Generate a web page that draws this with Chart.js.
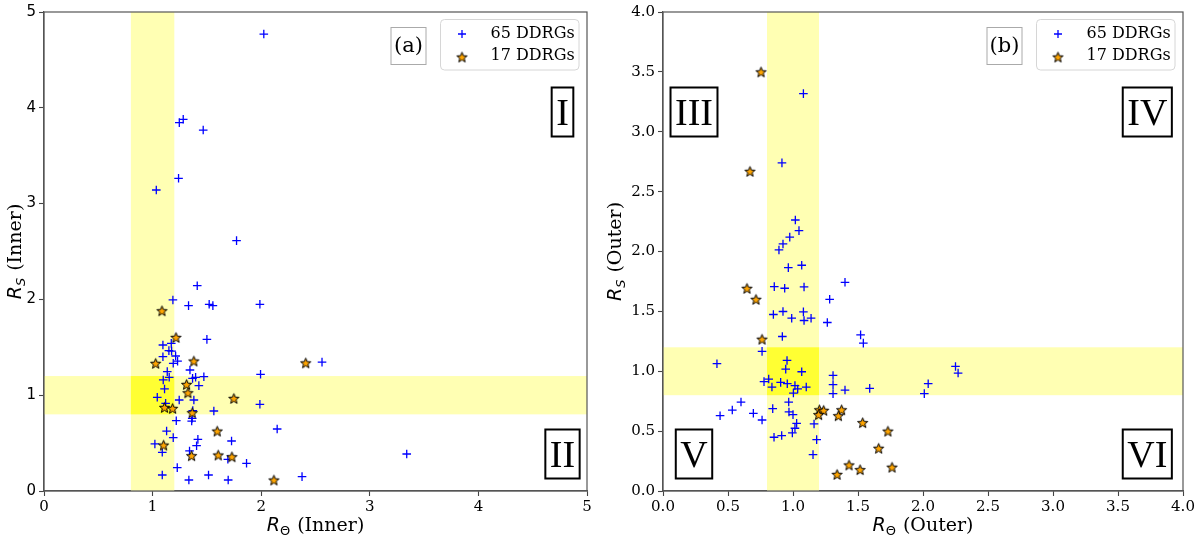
<!DOCTYPE html>
<html>
<head>
<meta charset="utf-8">
<script src="https://cdn.jsdelivr.net/npm/chart.js@4.4.0/dist/chart.umd.min.js"></script>
<style>
  html, body { margin: 0; padding: 0; background: #fff; }
  #wrap { position: relative; width: 1200px; height: 541px; }
  .panel { position: absolute; top: 0; width: 600px; height: 541px; }
</style>
</head>
<body>
<div id="wrap">
  <div class="panel" style="left:0"><canvas id="cInner" width="600" height="541"></canvas></div>
  <div class="panel" style="left:600px"><canvas id="cOuter" width="600" height="541"></canvas></div>
</div>
<script>
// ---------- DATA ----------
const legendLabels = ['65 DDRGs', '17 DDRGs'];
const bandRange = [0.8, 1.2];

const innerTicks = [0, 1, 2, 3, 4, 5];
const outerTicks = [0, 0.5, 1.0, 1.5, 2.0, 2.5, 3.0, 3.5, 4.0];

// Panel (a): inner
const innerCrossX = [1.411,1.187,1.331,1.521,1.555,1.988,1.500,1.095,1.172,1.150,1.175,1.095,1.212,1.190,1.230,1.344,1.135,1.098,1.153,1.368,1.396,1.472,1.994,1.426,1.110,1.043,1.245,1.380,1.120,1.988,1.564,1.365,1.218,2.147,1.129,1.417,1.190,1.727,1.021,1.405,1.340,1.089,1.865,1.693,1.227,1.089,1.334,1.515,1.696,2.024,1.246,1.282,1.466,1.239,1.034,1.773,2.560,3.340,2.376,1.370,1.360];
const innerCrossY = [2.143,1.994,1.935,1.949,1.935,1.949,1.583,1.524,1.541,1.465,1.461,1.402,1.409,1.333,1.355,1.263,1.246,1.159,1.187,1.176,1.187,1.193,1.218,1.100,1.065,0.978,0.950,0.950,0.915,0.905,0.835,0.759,0.734,0.647,0.626,0.539,0.557,0.522,0.491,0.473,0.418,0.404,0.289,0.331,0.244,0.167,0.115,0.167,0.115,4.770,3.845,3.880,3.768,3.264,3.142,2.613,1.345,0.386,0.150,0.840,0.730];
const innerStarX = [1.086,1.215,1.380,1.028,1.313,1.325,1.748,1.110,1.184,1.365,1.595,1.101,1.359,1.604,1.730,2.117,2.410];
const innerStarY = [1.882,1.604,1.357,1.333,1.113,1.026,0.967,0.873,0.863,0.818,0.626,0.480,0.369,0.376,0.358,0.115,1.338];

// Panel (b): outer
const outerCrossX = [0.923,0.892,0.964,1.067,0.856,0.936,1.085,1.400,1.282,0.849,0.923,0.990,1.080,1.085,1.139,1.264,0.918,1.520,1.541,0.762,0.415,0.954,0.944,1.067,0.777,0.813,0.838,0.905,0.956,1.015,1.036,1.102,1.003,1.308,1.308,1.308,1.400,1.590,2.040,2.010,0.600,0.533,0.439,0.695,0.762,0.844,0.967,0.969,1.000,1.028,1.015,0.995,1.162,1.182,1.154,0.854,0.913,1.080,0.915,1.018,1.046,0.975,2.250,2.270];
const outerCrossY = [2.063,2.013,1.865,1.885,1.707,1.693,1.704,1.743,1.601,1.474,1.499,1.443,1.496,1.424,1.443,1.407,1.290,1.304,1.235,1.166,1.063,1.090,1.018,0.996,0.913,0.935,0.868,0.907,0.896,0.880,0.852,0.868,0.818,0.965,0.888,0.813,0.843,0.857,0.896,0.813,0.743,0.676,0.629,0.649,0.593,0.688,0.743,0.660,0.638,0.565,0.524,0.485,0.560,0.429,0.304,0.449,0.463,3.318,2.740,2.263,2.174,2.120,1.040,0.985];
const outerStarX = [0.646,0.715,0.762,1.203,1.236,1.197,1.374,1.349,1.536,1.730,1.659,1.431,1.516,1.762,1.339,0.754,0.669];
const outerStarY = [1.693,1.601,1.268,0.679,0.674,0.638,0.679,0.629,0.571,0.500,0.357,0.218,0.179,0.199,0.139,3.500,2.670];

// ---------- HELPERS ----------
const SERIF = "DejaVu Serif";
const SANS = "DejaVu Sans";
const TIMES = "'Liberation Serif', 'Times New Roman', serif";

function zip(xs, ys) { return xs.map((x, i) => ({ x: x, y: ys[i] })); }

function makeStar(outer, inner) {
  const s = Math.ceil(outer * 2 + 4);
  const c = document.createElement('canvas');
  c.width = s; c.height = s;
  const g = c.getContext('2d');
  const cx = s / 2, cy = s / 2 + 0.6;
  g.beginPath();
  for (let i = 0; i < 10; i++) {
    const r = i % 2 ? inner : outer;
    const a = -Math.PI / 2 + i * Math.PI / 5;
    g.lineTo(cx + r * Math.cos(a), cy + r * Math.sin(a));
  }
  g.closePath();
  g.fillStyle = '#FFA500';
  g.fill();
  g.lineWidth = 1;
  g.strokeStyle = '#000';
  g.stroke();
  return c;
}
const starImg = makeStar(5.4, 2.3);

function drawCross(ctx, x, y, r) {
  ctx.save();
  ctx.strokeStyle = '#0000ff';
  ctx.lineWidth = 1.3;
  ctx.beginPath();
  ctx.moveTo(x - r, y); ctx.lineTo(x + r, y);
  ctx.moveTo(x, y - r); ctx.lineTo(x, y + r);
  ctx.stroke();
  ctx.restore();
}

function roundRect(ctx, x, y, w, h, r) {
  ctx.beginPath();
  ctx.moveTo(x + r, y);
  ctx.lineTo(x + w - r, y); ctx.arcTo(x + w, y, x + w, y + r, r);
  ctx.lineTo(x + w, y + h - r); ctx.arcTo(x + w, y + h, x + w - r, y + h, r);
  ctx.lineTo(x + r, y + h); ctx.arcTo(x, y + h, x, y + h - r, r);
  ctx.lineTo(x, y + r); ctx.arcTo(x, y, x + r, y, r);
  ctx.closePath();
}

// axis title like "R_S (Inner)"
function drawMathTitle(ctx, main, sub, rest) {
  ctx.save();
  ctx.textBaseline = 'alphabetic';
  ctx.font = "italic 19px '" + SANS + "'";
  const w1 = ctx.measureText(main).width;
  ctx.font = (sub === 'Θ' ? "" : "italic ") + "13px '" + SANS + "'";
  const w2 = ctx.measureText(sub).width;
  ctx.font = "19px '" + SERIF + "'";
  const w3 = ctx.measureText(rest).width;
  const total = w1 + w2 + 1 + w3;
  let x = -total / 2;
  ctx.fillStyle = '#000';
  ctx.font = "italic 19px '" + SANS + "'";
  ctx.fillText(main, x, 0); x += w1;
  ctx.font = (sub === 'Θ' ? "" : "italic ") + "13px '" + SANS + "'";
  ctx.fillText(sub, x, 4); x += w2 + 1;
  ctx.font = "19px '" + SERIF + "'";
  ctx.fillText(rest, x, 0);
  ctx.restore();
}

const decor = {
  id: 'decor',
  beforeDatasetsDraw(chart) {
    const { ctx, chartArea: a, scales: { x, y } } = chart;
    const x0 = x.getPixelForValue(bandRange[0]), x1 = x.getPixelForValue(bandRange[1]);
    const y0 = y.getPixelForValue(bandRange[1]), y1 = y.getPixelForValue(bandRange[0]);
    ctx.save();
    ctx.fillStyle = '#FFFFB3';
    ctx.fillRect(x0, a.top, x1 - x0, a.height);
    ctx.fillRect(a.left, y0, a.width, y1 - y0);
    ctx.fillStyle = '#FFFF33';
    ctx.fillRect(x0, y0, x1 - x0, y1 - y0);
    ctx.restore();
  },
  afterDatasetsDraw(chart, args, opts) {
    const { ctx, chartArea: a } = chart;
    ctx.save();
    // spines
    ctx.strokeStyle = '#555';
    ctx.lineWidth = 1.2;
    ctx.strokeRect(a.left, a.top, a.width, a.height);

    // panel letter box
    const lr = a.right - 161, lw = 35, lt = 27.5, lh = 37;
    ctx.fillStyle = '#fff';
    ctx.fillRect(lr - lw, lt, lw, lh);
    ctx.strokeStyle = '#aaa';
    ctx.lineWidth = 1;
    ctx.strokeRect(lr - lw, lt, lw, lh);
    ctx.fillStyle = '#000';
    ctx.font = "21px '" + SERIF + "'";
    ctx.textAlign = 'center';
    ctx.textBaseline = 'middle';
    ctx.fillText(opts.letter, lr - lw / 2, lt + lh / 2 + 1);

    // legend
    const gl = a.right - 146.5, gr = a.right - 8, gt = 19.5, gb = 70;
    ctx.fillStyle = 'rgba(255,255,255,0.85)';
    roundRect(ctx, gl, gt, gr - gl, gb - gt, 4);
    ctx.fill();
    ctx.strokeStyle = '#d6d6d6';
    ctx.lineWidth = 1;
    ctx.stroke();
    drawCross(ctx, gl + 21.5, 34, 4);
    ctx.drawImage(starImg, gl + 21.5 - starImg.width / 2, 57 - starImg.height / 2);
    ctx.fillStyle = '#000';
    ctx.font = "16px '" + SERIF + "'";
    ctx.textAlign = 'left';
    ctx.textBaseline = 'middle';
    ctx.fillText(legendLabels[0], gl + 50, 34);
    ctx.fillText(legendLabels[1], gl + 50, 56);

    // quadrant labels
    ctx.font = "38px " + TIMES;
    opts.quads.forEach(q => {
      const cx = q.side === 'L' ? a.left + q.dx : a.right - q.dx;
      const cy = q.pos === 'T' ? a.top + 100 : a.bottom - 37;
      const tw = ctx.measureText(q.t).width;
      const bw = tw + 9, bh = 49;
      ctx.fillStyle = '#fff';
      ctx.fillRect(cx - bw / 2, cy - bh / 2, bw, bh);
      ctx.strokeStyle = '#000';
      ctx.lineWidth = 2;
      ctx.strokeRect(cx - bw / 2, cy - bh / 2, bw, bh);
      ctx.fillStyle = '#000';
      ctx.textAlign = 'center';
      ctx.textBaseline = 'alphabetic';
      ctx.fillText(q.t, cx, cy + 13);
    });
    ctx.restore();
  },
  afterDraw(chart, args, opts) {
    const { ctx, chartArea: a } = chart;
    ctx.save();
    ctx.translate((a.left + a.right) / 2, 531);
    drawMathTitle(ctx, 'R', 'Θ', ' (' + opts.name + ')');
    ctx.restore();
    ctx.save();
    ctx.translate(opts.yTitleX, (a.top + a.bottom) / 2);
    ctx.rotate(-Math.PI / 2);
    drawMathTitle(ctx, 'R', 'S', ' (' + opts.name + ')');
    ctx.restore();
  }
};

function makeChart(id, cfg) {
  const tickFmt = cfg.decimals ? (v => Number(v).toFixed(1)) : (v => String(v));
  new Chart(document.getElementById(id), {
    type: 'scatter',
    data: {
      datasets: [
        { label: legendLabels[0], data: zip(cfg.cx, cfg.cy), pointStyle: 'cross', pointRadius: 4.3,
          borderColor: '#0000ff', backgroundColor: '#0000ff', borderWidth: 1.3, order: 1 },
        { label: legendLabels[1], data: zip(cfg.sx, cfg.sy), pointStyle: starImg, pointRadius: 6,
          borderColor: '#000', backgroundColor: '#FFA500', order: 0 }
      ]
    },
    options: {
      responsive: false,
      animation: false,
      events: [],
      layout: { padding: { top: 12, right: cfg.padRight, left: 0, bottom: 0 } },
      plugins: {
        legend: { display: false },
        tooltip: { enabled: false },
        decor: { letter: cfg.letter, quads: cfg.quads, name: cfg.name, yTitleX: 21 }
      },
      scales: {
        x: {
          type: 'linear', min: 0, max: cfg.max,
          afterBuildTicks: s => { s.ticks = cfg.ticks.map(v => ({ value: v })); },
          afterFit: s => { s.height = 50; },
          ticks: { callback: tickFmt, font: { family: SERIF, size: 15 }, color: '#000', padding: 2, maxRotation: 0, autoSkip: false },
          grid: { drawOnChartArea: false, drawTicks: true, tickLength: 5, color: '#444', tickWidth: 1.1 },
          border: { display: true, color: '#555', width: 1.2 }
        },
        y: {
          type: 'linear', min: 0, max: cfg.max,
          afterBuildTicks: s => { s.ticks = cfg.ticks.map(v => ({ value: v })); },
          afterFit: s => { s.width = cfg.yWidth; },
          ticks: { callback: tickFmt, font: { family: cfg.yFont, size: 15 }, color: '#000', padding: 3, autoSkip: false },
          grid: { drawOnChartArea: false, drawTicks: true, tickLength: 5, color: '#444', tickWidth: 1.1 },
          border: { display: true, color: '#555', width: 1.2 }
        }
      }
    },
    plugins: [decor]
  });
}

makeChart('cInner', {
  cx: innerCrossX, cy: innerCrossY, sx: innerStarX, sy: innerStarY,
  max: 5, ticks: innerTicks, decimals: false, padRight: 13, yWidth: 44, yFont: SANS,
  letter: '(a)', name: 'Inner',
  quads: [ { t: 'I', side: 'R', dx: 24.5, pos: 'T' }, { t: 'II', side: 'R', dx: 24.5, pos: 'B' } ]
});

makeChart('cOuter', {
  cx: outerCrossX, cy: outerCrossY, sx: outerStarX, sy: outerStarY,
  max: 4, ticks: outerTicks, decimals: true, padRight: 17, yWidth: 63, yFont: SERIF,
  letter: '(b)', name: 'Outer',
  quads: [ { t: 'III', side: 'L', dx: 31, pos: 'T' }, { t: 'IV', side: 'R', dx: 35.7, pos: 'T' },
           { t: 'V', side: 'L', dx: 31, pos: 'B' }, { t: 'VI', side: 'R', dx: 35.7, pos: 'B' } ]
});
</script>
</body>
</html>
